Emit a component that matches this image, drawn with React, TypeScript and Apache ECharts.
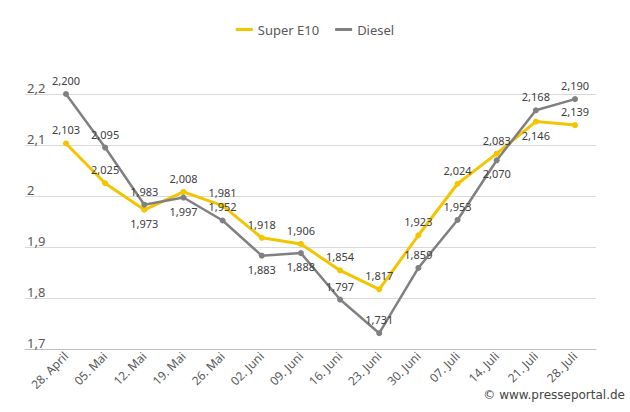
import React, { useEffect, useRef } from "react";
import * as echarts from "echarts";

// Weekly average fuel prices (EUR per litre)
const weeks = [
  "28. April", "05. Mai", "12. Mai", "19. Mai", "26. Mai", "02. Juni", "09. Juni",
  "16. Juni", "23. Juni", "30. Juni", "07. Juli", "14. Juli", "21. Juli", "28. Juli",
];
const superE10 = [2.103, 2.025, 1.973, 2.008, 1.981, 1.918, 1.906, 1.854, 1.817, 1.923, 2.024, 2.083, 2.146, 2.139];
const diesel = [2.2, 2.095, 1.983, 1.997, 1.952, 1.883, 1.888, 1.797, 1.731, 1.859, 1.953, 2.07, 2.168, 2.19];

// Point indices whose value label sits below the marker
const e10LabelsBelow = [2, 12];
const dieselLabelsBelow = [3, 5, 6, 11];

const FONT = "'Noto Sans', 'Open Sans', sans-serif";
const YELLOW = "#f2c500";
const GREY = "#808080";

const fmt = (v: number, digits: number) => v.toFixed(digits).replace(".", ",");

const withLabels = (values: number[], below: number[]) =>
  values.map((v, i) => ({
    value: v,
    label: { position: below.includes(i) ? "bottom" : "top" },
  }));

export default function App() {
  const ref = useRef<HTMLDivElement>(null);

  useEffect(() => {
    if (!ref.current) return;
    const chart = echarts.init(ref.current, null, { renderer: "svg" });
    chart.setOption({
      animation: false,
      backgroundColor: "#ffffff",
      textStyle: { fontFamily: FONT },
      legend: {
        top: 18,
        left: "center",
        icon: "rect",
        itemWidth: 17,
        itemHeight: 3,
        itemGap: 16,
        textStyle: { fontFamily: FONT, fontSize: 13, color: "#595959" },
        data: ["Super E10", "Diesel"],
      },
      grid: [
        { left: 25, right: 34, top: 94, bottom: 63 },
        { left: 46.4, right: 35.4, top: 94, bottom: 63 },
      ],
      xAxis: [
        {
          gridIndex: 0,
          type: "category",
          data: weeks,
          axisLine: { show: true, lineStyle: { color: "#bfbfbf", width: 1 } },
          axisTick: { show: false },
          axisLabel: { show: false },
          splitLine: { show: false },
        },
        {
          gridIndex: 1,
          type: "category",
          data: weeks,
          boundaryGap: true,
          axisLine: { show: false },
          axisTick: { show: false },
          axisLabel: {
            rotate: 45,
            margin: 5,
            interval: 0,
            fontFamily: FONT,
            fontSize: 12,
            color: "#595959",
          },
        },
      ],
      yAxis: [
        {
          gridIndex: 0,
          type: "value",
          min: 1.7,
          max: 2.2,
          interval: 0.1,
          axisLine: { show: false },
          axisTick: { show: false },
          splitLine: { lineStyle: { color: "#d9d9d9", width: 1 } },
          axisLabel: {
            inside: true,
            margin: 2,
            verticalAlign: "bottom",
            fontFamily: FONT,
            fontSize: 13,
            color: "#595959",
            formatter: (v: number) => {
              const r = Math.round(v * 10) / 10;
              return Number.isInteger(r) ? String(r) : fmt(r, 1);
            },
          },
        },
        {
          gridIndex: 1,
          type: "value",
          min: 1.7,
          max: 2.2,
          interval: 0.1,
          show: false,
          splitLine: { show: false },
        },
      ],
      series: [
        {
          name: "Super E10",
          type: "line",
          xAxisIndex: 1,
          yAxisIndex: 1,
          data: withLabels(superE10, e10LabelsBelow),
          color: YELLOW,
          lineStyle: { width: 3, color: YELLOW },
          symbol: "circle",
          symbolSize: 6,
          itemStyle: { color: YELLOW },
          label: {
            show: true,
            distance: 5,
            fontFamily: FONT,
            fontSize: 11,
            color: "#404040",
            formatter: (p: any) => fmt(p.value, 3),
          },
        },
        {
          name: "Diesel",
          type: "line",
          xAxisIndex: 1,
          yAxisIndex: 1,
          data: withLabels(diesel, dieselLabelsBelow),
          color: GREY,
          lineStyle: { width: 2.5, color: GREY },
          symbol: "circle",
          symbolSize: 6,
          itemStyle: { color: GREY },
          label: {
            show: true,
            distance: 5,
            fontFamily: FONT,
            fontSize: 11,
            color: "#404040",
            formatter: (p: any) => fmt(p.value, 3),
          },
        },
      ],
      graphic: [
        {
          type: "text",
          right: 5,
          top: 389,
          style: {
            text: "© www.presseportal.de",
            fontFamily: "'DejaVu Sans', sans-serif",
            fontSize: 12,
            fill: "#444444",
          },
        },
      ],
    });
    return () => chart.dispose();
  }, []);

  return (
    <div
      ref={ref}
      style={{ position: "fixed", left: 0, top: 0, width: 630, height: 412 }}
    />
  );
}
